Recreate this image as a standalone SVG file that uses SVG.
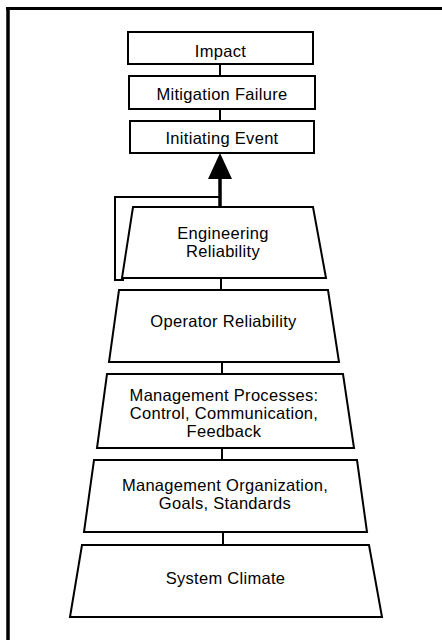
<svg xmlns="http://www.w3.org/2000/svg" width="442" height="640" viewBox="0 0 442 640">
  <style>
    .box { fill: #fff; stroke: #000; stroke-width: 2; stroke-linejoin: miter; }
    .lbl { font-family: "Liberation Sans", Arial, sans-serif; font-size: 16.5px; letter-spacing: 0.3px; fill: #000; text-anchor: middle; }
    .link { fill: none; stroke: #000; stroke-width: 2; }
    .frame { fill: none; stroke: #000; }
  </style>
  <defs>
    <!-- solid triangular head, pointing along the line direction -->
    <marker id="head" viewBox="0 0 26 24" refX="1" refY="12" markerWidth="26" markerHeight="24" markerUnits="userSpaceOnUse" orient="auto">
      <path d="M0,0 L26,12 L0,24 Z" fill="#000"/>
    </marker>
  </defs>

  <rect width="442" height="640" fill="#fff"/>

  <!-- page frame: left rule and top rule -->
  <line class="frame" x1="8" y1="7" x2="8" y2="640" stroke-width="3.5"/>
  <line class="frame" x1="6" y1="8.5" x2="442" y2="8.5" stroke-width="3"/>

  <!-- connectors -->
  <g id="connectors">
    <line class="link" x1="220" y1="64" x2="220" y2="76"/>
    <line class="link" x1="220" y1="109" x2="220" y2="121"/>
    <line class="link" x1="221" y1="278" x2="221" y2="290"/>
    <line class="link" x1="222" y1="362" x2="222" y2="374"/>
    <line class="link" x1="222" y1="448" x2="222" y2="460"/>
    <line class="link" x1="223" y1="532" x2="223" y2="545"/>
    <!-- bracket round Engineering Reliability feeding the initiating event -->
    <path class="link" d="M220,197 H115 V280 H124"/>
    <!-- arrow up into Initiating Event -->
    <line x1="220" y1="207" x2="220" y2="178" stroke="#000" stroke-width="3.5" marker-end="url(#head)"/>
  </g>

  <g id="impact">
    <rect class="box" x="128" y="32" width="185" height="32"/>
    <text class="lbl" x="220.5" y="57">Impact</text>
  </g>

  <g id="mitigation-failure">
    <rect class="box" x="129" y="76" width="186" height="33"/>
    <text class="lbl" x="222" y="100">Mitigation Failure</text>
  </g>

  <g id="initiating-event">
    <rect class="box" x="130" y="121" width="184" height="32"/>
    <text class="lbl" x="222" y="144">Initiating Event</text>
  </g>

  <g id="engineering-reliability">
    <polygon class="box" points="133,207 313,207 326,278 122,278"/>
    <text class="lbl" x="223" y="239">Engineering</text>
    <text class="lbl" x="223" y="257">Reliability</text>
  </g>

  <g id="operator-reliability">
    <polygon class="box" points="119,290 328,290 339,362 109,362"/>
    <text class="lbl" x="223.5" y="327">Operator Reliability</text>
  </g>

  <g id="management-processes">
    <polygon class="box" points="107,374 343,374 354,448 97,448"/>
    <text class="lbl" x="224" y="401">Management Processes:</text>
    <text class="lbl" x="224" y="419">Control, Communication,</text>
    <text class="lbl" x="224" y="437">Feedback</text>
  </g>

  <g id="management-organization">
    <polygon class="box" points="94,460 357,460 367,532 84,532"/>
    <text class="lbl" x="225" y="491">Management Organization,</text>
    <text class="lbl" x="225" y="509">Goals, Standards</text>
  </g>

  <g id="system-climate">
    <polygon class="box" points="82,545 369,545 382,617 70,617"/>
    <text class="lbl" x="225.5" y="584">System Climate</text>
  </g>
</svg>
